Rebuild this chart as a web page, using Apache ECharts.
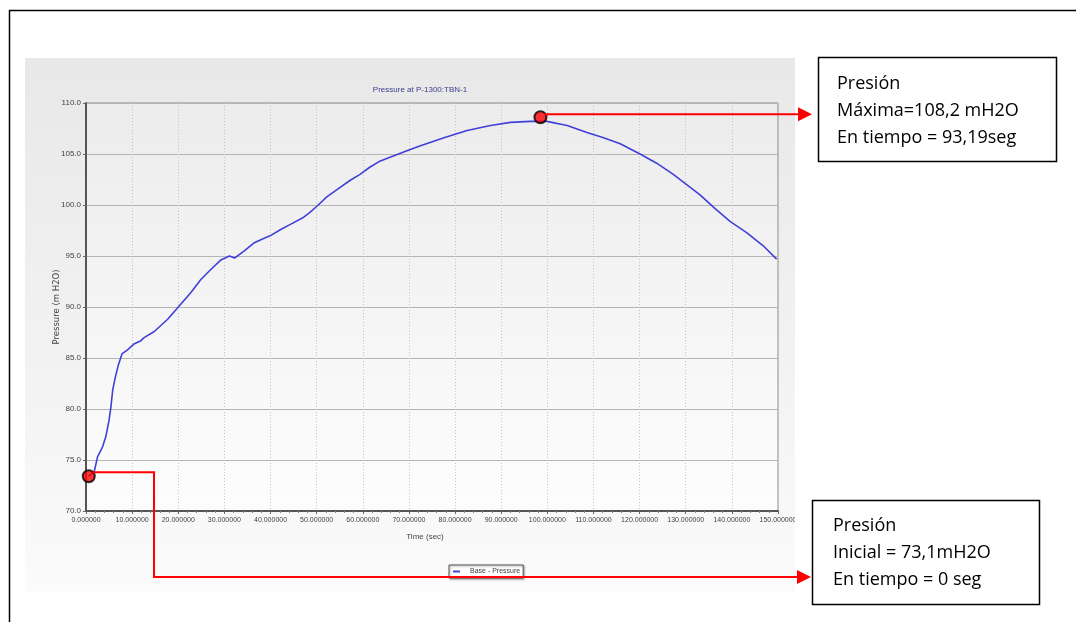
<!DOCTYPE html>
<html>
<head>
<meta charset="utf-8">
<script src="https://cdn.jsdelivr.net/npm/echarts@6/dist/echarts.min.js"></script>
<style>
html,body{margin:0;padding:0;background:#fff;}
#chart{width:1076px;height:622px;}
</style>
</head>
<body>
<div id="chart"></div>
<script>
// ---- data ----
const timeSec = [0.6,1.8,2.5,3.6,4.3,5.0,5.4,5.8,6.3,7.0,7.8,9.0,10.5,11.9,12.6,14.8,17.7,20.2,22.7,24.9,27.1,29.2,31.1,32.2,34.3,36.5,37.9,40.0,42.2,44.3,47.2,48.6,50.1,52.2,54.4,57.2,59.4,61.5,63.7,66.6,70.0,72.5,77.6,82.6,87.7,92.0,96.3,99.9,104.3,108.6,112.2,115.8,120.1,123.7,127.3,130.2,133.1,136.0,139.6,143.2,146.8,149.7];
const pressure = [73.4,73.9,75.3,76.3,77.3,78.9,80.2,81.9,83.0,84.3,85.4,85.8,86.4,86.7,87.0,87.6,88.8,90.1,91.4,92.7,93.7,94.6,95.0,94.8,95.5,96.3,96.6,97.0,97.6,98.1,98.8,99.3,99.9,100.8,101.5,102.4,103.0,103.7,104.3,104.8,105.4,105.8,106.6,107.3,107.8,108.1,108.2,108.2,107.8,107.1,106.6,106.0,105.0,104.1,103.0,102.0,101.0,99.8,98.4,97.3,96.0,94.7];
const markTime = [0.6, 98.5];
const markPressure = [73.4, 108.6];
const xTicks = [0,10,20,30,40,50,60,70,80,90,100,110,120,130,140,150];
const yTicks = [70,75,80,85,90,95,100,105,110];
const titleText = 'Pressure at P-1300:TBN-1';
const seriesName = 'Base - Pressure';
const maxNote = ['Presión', 'Máxima=108,2 mH2O', 'En tiempo = 93,19seg'];
const initNote = ['Presión', 'Inicial = 73,1mH2O', 'En tiempo = 0 seg'];

const lineData = timeSec.map((t, i) => [t, pressure[i]]);
const markData = markTime.map((t, i) => [t, markPressure[i]]);

const chart = echarts.init(document.getElementById('chart'), null, {renderer: 'canvas'});
const smallFont = 'Liberation Sans';

const option = {
  backgroundColor: '#ffffff',
  animation: false,
  title: {
    text: titleText,
    left: 415, top: 81,
    textAlign: 'center',
    textStyle: {fontSize: 8, fontWeight: 'normal', color: '#3b3b8f', fontFamily: smallFont}
  },
  legend: {
    left: 449, top: 565,
    data: [seriesName],
    icon: 'rect', itemWidth: 7, itemHeight: 2, itemGap: 4,
    padding: [3, 3, 3, 4],
    backgroundColor: '#ffffff',
    borderColor: '#555', borderWidth: 1,
    shadowColor: 'rgba(0,0,0,0.35)', shadowBlur: 2, shadowOffsetX: 1, shadowOffsetY: 1,
    textStyle: {fontSize: 7, color: '#444', fontFamily: smallFont, padding: [0,0,0,5]}
  },
  grid: {
    left: 86, top: 103, width: 692, height: 408,
    show: true,
    borderColor: '#8a8a8a', borderWidth: 1,
    backgroundColor: new echarts.graphic.LinearGradient(0, 0, 0, 1, [
      {offset: 0, color: '#ececec'}, {offset: 1, color: '#fdfdfd'}
    ])
  },
  xAxis: {
    type: 'value', min: xTicks[0], max: xTicks[xTicks.length - 1], interval: 10,
    name: 'Time (sec)', nameLocation: 'middle', nameGap: 22,
    nameTextStyle: {fontSize: 8, color: '#444', fontFamily: smallFont, padding: [0, 14, 0, 0]},
    axisLine: {lineStyle: {color: '#555', width: 2}},
    axisTick: {show: true, length: 3, lineStyle: {color: '#666'}},
    minorTick: {show: true, splitNumber: 5, length: 2, lineStyle: {color: '#888'}},
    axisLabel: {fontSize: 7, color: '#444', fontFamily: smallFont, margin: 6,
      formatter: v => v.toFixed(6)},
    splitLine: {show: true, lineStyle: {color: '#c4c4c4', type: [1, 2], width: 1}}
  },
  yAxis: {
    type: 'value', min: yTicks[0], max: yTicks[yTicks.length - 1], interval: 5,
    name: 'Pressure (m H2O)', nameLocation: 'middle', nameGap: 25, nameRotate: 90,
    nameMoveOverlap: false,
    nameTextStyle: {fontSize: 8.5, color: '#444', fontFamily: 'DejaVu Sans'},
    axisLine: {show: true, lineStyle: {color: '#555', width: 2}},
    axisTick: {show: true, length: 3, lineStyle: {color: '#666'}},
    axisLabel: {fontSize: 8, color: '#444', fontFamily: smallFont, margin: 5,
      formatter: v => v.toFixed(1)},
    splitLine: {show: true, lineStyle: {color: '#b4b4b4', width: 1}}
  },
  series: [
    {
      name: seriesName, type: 'line', data: lineData,
      showSymbol: false, symbol: 'none',
      lineStyle: {color: '#4040d8', width: 1.6},
      itemStyle: {color: '#4040d8'},
      z: 3
    },
    {
      name: 'marks', type: 'scatter', data: markData,
      symbolSize: 12,
      itemStyle: {color: '#ff0000', borderColor: '#000', borderWidth: 2},
      z: 6, silent: true
    }
  ],
  graphic: [
    {type: 'rect', id: 'frame', z: 100, shape: {x: 9.5, y: 10.5, width: 1100, height: 700},
     style: {fill: 'none', stroke: '#000', lineWidth: 1.5}, silent: true},
    {type: 'rect', id: 'panel', z: -10, shape: {x: 25, y: 58, width: 770, height: 534},
     style: {fill: new echarts.graphic.LinearGradient(0, 0, 0, 1, [
       {offset: 0, color: '#e8e8e8'}, {offset: 0.5, color: '#f1f1f1'}, {offset: 1, color: '#fbfbfb'}
     ])}, silent: true},
    {type: 'rect', id: 'cover', z: 50, shape: {x: 795, y: 512, width: 16, height: 20},
     style: {fill: '#ffffff'}, silent: true}
  ]
};
chart.setOption(option);

// annotation boxes and connector arrows, anchored to the data points
function arrowHead(tipX, tipY) {
  return [[tipX, tipY], [tipX - 14, tipY - 7], [tipX - 14, tipY + 7]];
}
const pMax = chart.convertToPixel({seriesIndex: 1}, markData[1]);
const pInit = chart.convertToPixel({seriesIndex: 1}, markData[0]);
const redStyle = {stroke: '#ff0000', lineWidth: 2, fill: 'none'};
const noteFont = '18px "Open Sans"';

const extra = [
  {type: 'polyline', id: 'lnMax', z: 40, shape: {points: [[pMax[0] + 4, pMax[1] - 3], [800, pMax[1] - 3]]}, style: redStyle, silent: true},
  {type: 'polygon', id: 'ahMax', z: 40, shape: {points: arrowHead(812, pMax[1] - 3)}, style: {fill: '#ff0000'}, silent: true},
  {type: 'polyline', id: 'lnInit', z: 40, shape: {points: [[pInit[0] + 4, pInit[1] - 4], [154, pInit[1] - 4], [154, 577], [798, 577]]}, style: redStyle, silent: true},
  {type: 'polygon', id: 'ahInit', z: 40, shape: {points: arrowHead(811, 577)}, style: {fill: '#ff0000'}, silent: true},
  {type: 'rect', id: 'boxMax', z: 40, shape: {x: 818.5, y: 57.5, width: 238, height: 104},
   style: {fill: '#fff', stroke: '#000', lineWidth: 1.5}, silent: true},
  {type: 'text', id: 'txtMax', z: 41, left: 837, top: 70,
   style: {text: maxNote.join('\n'), font: noteFont, fill: '#000', lineHeight: 27}, silent: true},
  {type: 'rect', id: 'boxInit', z: 40, shape: {x: 812.5, y: 500.5, width: 227, height: 104},
   style: {fill: '#fff', stroke: '#000', lineWidth: 1.5}, silent: true},
  {type: 'text', id: 'txtInit', z: 41, left: 833, top: 512,
   style: {text: initNote.join('\n'), font: noteFont, fill: '#000', lineHeight: 27}, silent: true}
];
chart.setOption({graphic: extra});
</script>
</body>
</html>
